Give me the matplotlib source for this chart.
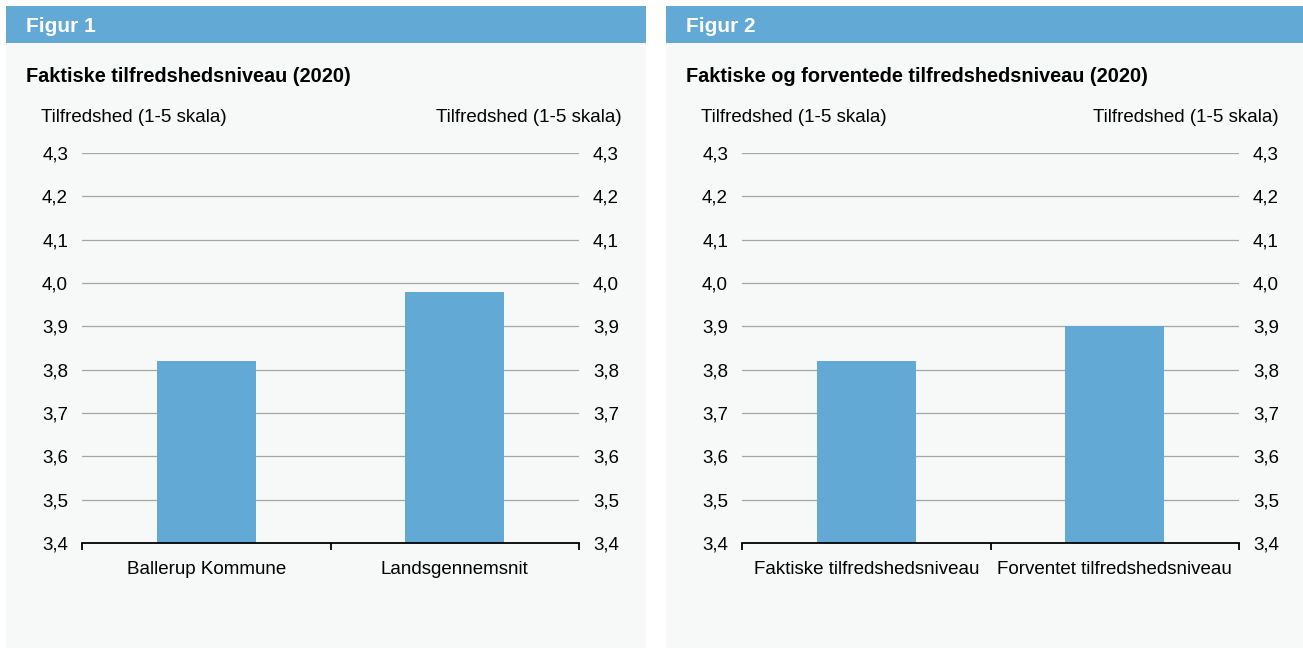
import matplotlib
matplotlib.use("Agg")
import matplotlib.pyplot as plt
from matplotlib.patches import Rectangle

plt.rcParams['font.family'] = ['Liberation Sans', 'DejaVu Sans']

# data
fig1_categories = ["Ballerup Kommune", "Landsgennemsnit"]
fig1_values = [3.82, 3.98]
fig2_categories = ["Faktiske tilfredshedsniveau", "Forventet tilfredshedsniveau"]
fig2_values = [3.82, 3.90]
y_ticks = [3.4, 3.5, 3.6, 3.7, 3.8, 3.9, 4.0, 4.1, 4.2, 4.3]
y_ticklabels = ["3,4", "3,5", "3,6", "3,7", "3,8", "3,9", "4,0", "4,1", "4,2", "4,3"]

W, H = 1303, 648
blue = "#63a9d5"
panel_bg = "#f7f8f8"
grid_col = "#a6a6a6"
fs = 13.5

fig = plt.figure(figsize=(W / 100, H / 100), dpi=100)
fig.patch.set_facecolor("white")


def px(x, y, w, h):
    # pixel box (top-left origin) -> figure fraction
    return [x / W, 1 - (y + h) / H, w / W, h / H]


def panel(x0, x1, fig_label, title, cats, vals):
    # background and header
    b = px(x0, 6, x1 - x0, H - 6)
    fig.patches.append(Rectangle((b[0], b[1]), b[2], b[3], transform=fig.transFigure,
                                 facecolor=panel_bg, edgecolor="none", zorder=-2))
    h = px(x0, 6, x1 - x0, 37)
    fig.patches.append(Rectangle((h[0], h[1]), h[2], h[3], transform=fig.transFigure,
                                 facecolor=blue, edgecolor="none", zorder=-1))
    fig.text((x0 + 20) / W, 1 - 27 / H, fig_label, color="white", fontsize=15,
             fontweight="bold", va="center", ha="left")
    fig.text((x0 + 20) / W, 1 - 76 / H, title, color="black", fontsize=14.3,
             fontweight="bold", va="center", ha="left")
    fig.text((x0 + 35) / W, 1 - 118 / H, "Tilfredshed (1-5 skala)", fontsize=fs,
             va="center", ha="left")
    fig.text((x1 - 24) / W, 1 - 118 / H, "Tilfredshed (1-5 skala)", fontsize=fs,
             va="center", ha="right")

    ax = fig.add_axes(px(x0 + 76, 153, 497, 390))
    ax.set_facecolor("none")
    xs = range(len(cats))
    ax.bar(xs, vals, width=0.4, color=blue, zorder=2)
    ax.set_xlim(-0.5, len(cats) - 0.5)
    ax.set_ylim(3.4, 4.3)
    ax.set_yticks(y_ticks)
    ax.set_yticklabels(y_ticklabels, fontsize=fs)
    for t in y_ticks[1:]:
        ax.axhline(t, color=grid_col, lw=0.9, zorder=1)
    ax.tick_params(axis="y", length=0, pad=10, labelleft=True, labelright=True)
    for s in ["top", "left", "right"]:
        ax.spines[s].set_visible(False)
    ax.spines["bottom"].set_color("black")
    ax.spines["bottom"].set_linewidth(1.3)
    ax.spines["bottom"].set_zorder(3)
    ax.set_xticks([-0.5 + i for i in range(len(cats) + 1)])
    ax.set_xticklabels([])
    ax.set_xticks(list(xs), minor=True)
    ax.set_xticklabels(cats, minor=True, fontsize=fs)
    ax.tick_params(axis="x", which="major", length=5, width=1.3, color="black", direction="out")
    ax.tick_params(axis="x", which="minor", length=0, pad=13)


panel(6, 646, "Figur 1", "Faktiske tilfredshedsniveau (2020)", fig1_categories, fig1_values)
panel(666, 1303, "Figur 2", "Faktiske og forventede tilfredshedsniveau (2020)", fig2_categories, fig2_values)

fig.savefig("out.png", dpi=100, facecolor=fig.get_facecolor())
